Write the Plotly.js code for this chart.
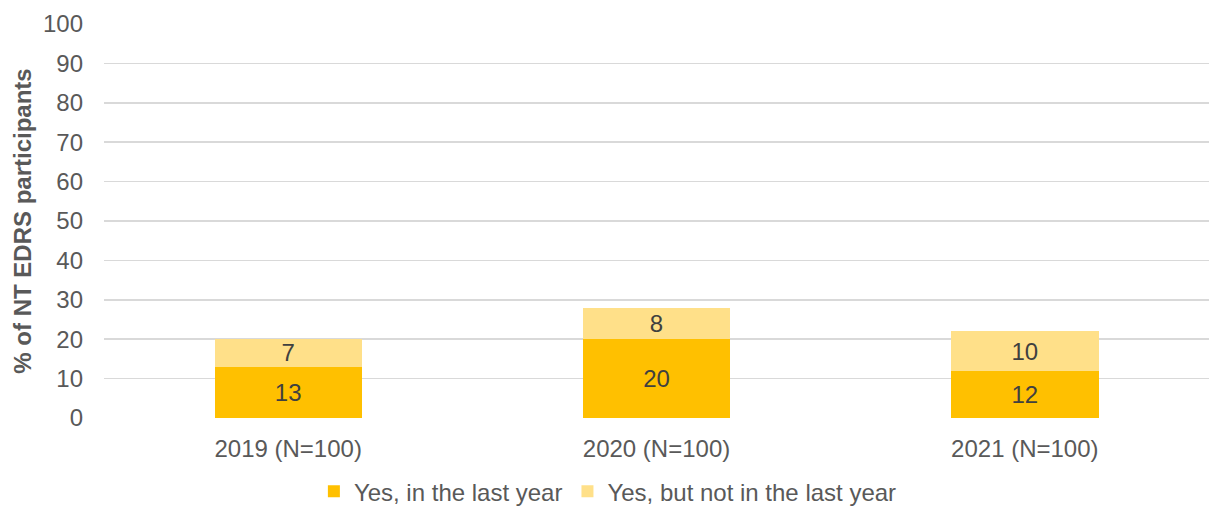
<!DOCTYPE html>
<html>
<head>
<meta charset="utf-8">
<script src="https://cdn.plot.ly/plotly-3.0.1.min.js"></script>
<style>html,body{margin:0;padding:0;background:#fff;}#chart{width:1209px;height:508px;}</style>
</head>
<body>
<div id="chart"></div>
<script>
const categories = ["2019 (N=100)", "2020 (N=100)", "2021 (N=100)"];
const inLastYear = [13, 20, 12];
const notInLastYear = [7, 8, 10];
const seriesNames = ["Yes, in the last year", "Yes, but not in the last year"];
const yTicks = [0, 10, 20, 30, 40, 50, 60, 70, 80, 90, 100];

const font = "Liberation Sans, Arial, sans-serif";
const labelFont = {family: font, size: 24, color: "#404040"};

const traces = [
  {type: "bar", name: seriesNames[0], x: categories, y: inLastYear,
   text: inLastYear.map(String), textposition: "inside", insidetextanchor: "middle", textangle: 0,
   constraintext: "none", textfont: labelFont, marker: {color: "#FFC000"}, width: 0.4, hoverinfo: "none"},
  {type: "bar", name: seriesNames[1], x: categories, y: notInLastYear,
   text: notInLastYear.map(String), textposition: "inside", insidetextanchor: "middle", textangle: 0,
   constraintext: "none", textfont: labelFont, marker: {color: "#FFE089"}, width: 0.4, hoverinfo: "none"}
];

const layout = {
  width: 1209, height: 508,
  barmode: "stack",
  margin: {l: 104, r: 0, t: 24, b: 90},
  paper_bgcolor: "#fff", plot_bgcolor: "#fff",
  font: {family: font, color: "#595959", size: 24},
  xaxis: {type: "category", range: [-0.5, 2.5], showgrid: false, showline: false, zeroline: false,
          automargin: false, ticks: "", tickfont: {family: font, size: 24, color: "#595959"}, ticklabelstandoff: 14},
  yaxis: {range: [0, 100], tickvals: yTicks, showgrid: true, gridcolor: "#D9D9D9", gridwidth: 1.5,
          automargin: false, zeroline: false, showline: false, ticks: "", ticklabelstandoff: 20,
          tickfont: {family: font, size: 24, color: "#595959"},
          title: {text: "% of NT EDRS participants", font: {family: font, size: 24, color: "#595959", weight: "bold"}, standoff: 4}},
  legend: {orientation: "h", x: 0.456, xanchor: "center", yref: "container", y: 0.032, yanchor: "middle",
           font: {family: font, size: 24, color: "#595959"}, traceorder: "normal", itemwidth: 20},
  showlegend: true
};

Plotly.newPlot("chart", traces, layout, {displayModeBar: false, staticPlot: true});
</script>
</body>
</html>
